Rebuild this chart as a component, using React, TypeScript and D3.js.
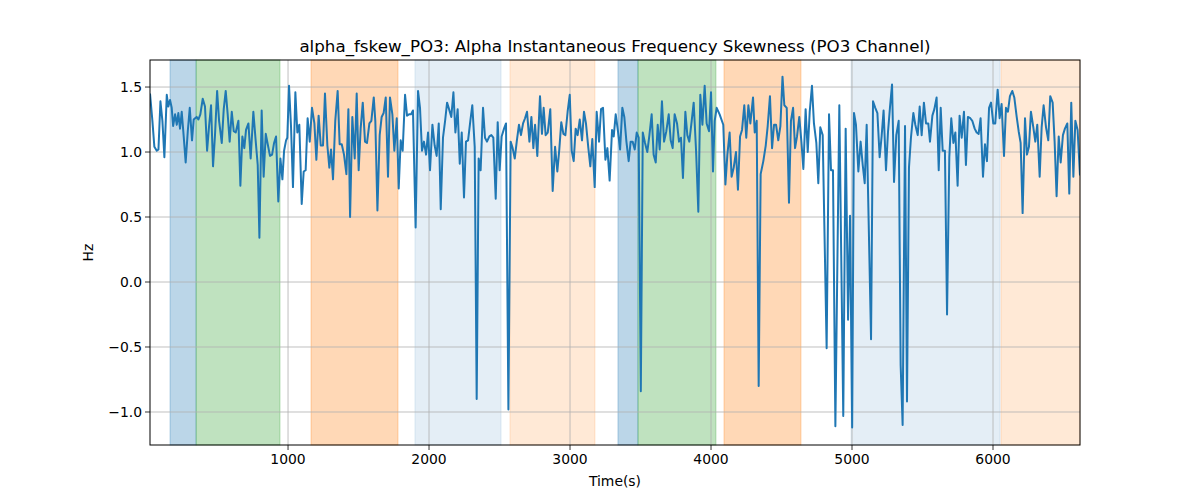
import * as d3 from "d3";

// time (s), value (Hz)
const samples: [number, number][] = [
  [21, 1.45], [38, 1.24], [52, 1.04], [69, 1.01], [81, 1.02], [95, 1.39], [109, 1.24], [123, 0.96],
  [140, 1.44], [151, 1.35], [163, 1.4], [175, 1.34], [185, 1.2], [199, 1.29], [211, 1.21], [222, 1.3],
  [234, 1.18], [246, 1.31], [260, 1.12], [274, 0.92], [289, 1.16], [303, 1.34], [319, 1.09], [331, 1.25],
  [341, 1.26], [352, 1.27], [364, 1.25], [378, 1.29], [395, 1.41], [411, 1.35], [426, 1.01], [440, 1.2],
  [454, 1.36], [468, 0.89], [482, 1.13], [497, 1.47], [511, 1.24], [530, 1.07], [544, 1.33], [558, 1.47],
  [572, 1.29], [586, 1.08], [601, 1.31], [615, 1.16], [629, 1.15], [648, 1.24], [662, 0.74], [676, 1.12],
  [690, 1.03], [702, 1.17], [719, 1.22], [735, 0.95], [754, 1.31], [771, 1.08], [785, 0.9], [797, 0.34],
  [813, 1.32], [827, 0.81], [842, 1.14], [856, 1.06], [872, 0.97], [887, 0.98], [901, 1.07], [915, 1.12],
  [931, 0.62], [946, 0.95], [960, 0.79], [972, 1.01], [986, 1.09], [995, 1.11], [1007, 1.51], [1021, 1.2],
  [1035, 0.73], [1052, 1.46], [1066, 1.15], [1080, 1.21], [1097, 0.6], [1111, 0.85], [1125, 0.86], [1139, 1.26],
  [1154, 1.08], [1170, 1.34], [1187, 1.22], [1201, 0.94], [1217, 1.28], [1232, 1.05], [1248, 1.05], [1262, 1.45],
  [1279, 1.05], [1293, 0.88], [1305, 1.02], [1319, 0.79], [1335, 1.24], [1352, 1.47], [1366, 1.06], [1381, 1.06],
  [1397, 0.98], [1414, 0.83], [1428, 1.33], [1440, 0.5], [1456, 1.27], [1473, 0.95], [1487, 1.45], [1501, 0.86],
  [1515, 1.18], [1530, 1.38], [1546, 1.08], [1560, 1.07], [1577, 1.22], [1591, 1.24], [1608, 1.42], [1619, 1.24],
  [1634, 0.55], [1650, 1.13], [1664, 1.27], [1678, 1.3], [1693, 1.42], [1709, 0.81], [1723, 1.42], [1740, 1.29],
  [1754, 1.01], [1771, 1.26], [1785, 0.72], [1799, 1.09], [1813, 1.01], [1830, 1.44], [1844, 1.28], [1858, 1.29],
  [1872, 1.29], [1886, 1.32], [1905, 0.42], [1922, 1.47], [1936, 1.34], [1950, 1.01], [1964, 1.08], [1979, 0.98],
  [1993, 1.15], [2007, 0.86], [2024, 1.21], [2040, 1.05], [2054, 0.97], [2069, 1.22], [2083, 0.56], [2099, 1.11],
  [2114, 1.24], [2128, 1.38], [2142, 1.33], [2158, 1.27], [2173, 1.46], [2187, 1.15], [2203, 1.33], [2218, 0.91],
  [2232, 1.15], [2248, 0.65], [2262, 1.08], [2277, 1.09], [2293, 1.24], [2307, 1.36], [2324, 1.04], [2338, -0.9],
  [2352, 0.95], [2366, 0.86], [2383, 1.34], [2397, 1.11], [2411, 1.08], [2428, 1.12], [2442, 1.13], [2456, 1.11],
  [2473, 0.64], [2487, 1.23], [2501, 0.86], [2515, 1.12], [2532, 1.18], [2546, 1.22], [2563, -0.98], [2579, 1.08],
  [2593, 1.03], [2608, 0.95], [2622, 1.08], [2638, 1.21], [2652, 1.13], [2667, 1.22], [2681, 1.26], [2695, 1.31],
  [2712, 1.08], [2726, 1.27], [2740, 1.03], [2752, 1.21], [2768, 0.97], [2787, 1.43], [2801, 1.14], [2813, 1.34],
  [2827, 1.13], [2842, 1.15], [2860, 1.33], [2877, 0.7], [2894, 1.04], [2910, 0.85], [2924, 1.02], [2938, 1.23],
  [2953, 1.14], [2967, 1.13], [2983, 1.31], [2998, 1.44], [3012, 1.01], [3026, 0.93], [3040, 1.18], [3054, 1.13],
  [3069, 1.25], [3085, 1.09], [3099, 1.31], [3113, 1.22], [3130, 1.03], [3144, 0.89], [3158, 1.1], [3175, 0.73],
  [3189, 1.31], [3206, 1.08], [3220, 1.33], [3234, 1.34], [3251, 0.94], [3265, 1.03], [3281, 0.78], [3298, 1.17],
  [3310, 1.12], [3324, 1.29], [3340, 1.16], [3355, 1.02], [3371, 1.34], [3385, 1.27], [3400, 1.08], [3416, 0.93],
  [3430, 1.08], [3444, 1.08], [3459, 1.02], [3473, 1.15], [3487, 1.11], [3502, -0.84], [3516, 1.15], [3532, 1.07],
  [3548, 1.0], [3563, 1.13], [3579, 1.29], [3593, 0.98], [3608, 0.92], [3622, 1.21], [3636, 1.02], [3652, 1.39],
  [3667, 1.08], [3683, 1.16], [3700, 1.29], [3714, 1.09], [3728, 1.03], [3742, 1.29], [3759, 1.22], [3773, 1.08],
  [3787, 1.11], [3801, 0.8], [3818, 1.31], [3832, 1.13], [3846, 1.08], [3863, 1.24], [3877, 1.38], [3894, 1.01],
  [3910, 0.54], [3924, 1.44], [3939, 1.21], [3955, 1.51], [3969, 1.22], [3986, 1.16], [4000, 1.46], [4014, 0.85],
  [4026, 1.24], [4040, 1.34], [4061, 1.29], [4087, 1.21], [4102, 0.75], [4116, 0.98], [4132, 1.15], [4146, 0.81],
  [4161, 0.88], [4177, 1.0], [4191, 0.71], [4206, 1.12], [4220, 1.17], [4236, 1.36], [4250, 1.11], [4265, 1.36],
  [4279, 1.22], [4298, 1.42], [4310, 1.15], [4324, 1.24], [4338, -0.8], [4352, 0.83], [4371, 0.93], [4388, 1.05],
  [4402, 1.2], [4418, 1.43], [4433, 1.03], [4447, 1.21], [4461, 1.21], [4477, 1.09], [4492, 1.2], [4507, 1.58],
  [4520, 1.36], [4537, 1.34], [4553, 0.61], [4567, 1.24], [4582, 1.34], [4596, 1.03], [4610, 1.12], [4626, 1.27],
  [4641, 1.08], [4655, 0.87], [4671, 1.33], [4686, 1.0], [4700, 1.31], [4716, 1.51], [4730, 1.22], [4747, 1.07],
  [4761, 0.76], [4775, 1.19], [4792, 1.13], [4820, -0.51], [4837, 1.29], [4851, 0.86], [4865, 0.86], [4882, -1.11],
  [4910, 1.36], [4938, -1.03], [4955, 1.18], [4972, -0.29], [4986, 0.51], [5001, -1.12], [5014, 1.3], [5028, 1.21],
  [5045, 0.85], [5061, 1.08], [5076, 0.9], [5090, 0.76], [5104, 1.21], [5118, 0.47], [5135, -0.44], [5149, 1.39],
  [5165, 1.34], [5180, 1.3], [5196, 0.96], [5210, 1.12], [5224, 1.32], [5241, 0.86], [5255, 1.15], [5269, 1.34],
  [5284, 1.52], [5298, 0.77], [5314, 1.13], [5331, 1.24], [5345, -0.64], [5359, -1.1], [5376, 1.2], [5390, -0.92],
  [5404, 0.88], [5418, 1.11], [5435, 1.3], [5449, 1.21], [5466, 1.13], [5480, 1.35], [5494, 1.13], [5510, 1.38],
  [5525, 1.22], [5541, 1.22], [5553, 1.08], [5570, 1.28], [5584, 1.33], [5600, 1.42], [5615, 0.86], [5629, 1.34],
  [5643, 1.01], [5659, 1.01], [5674, -0.25], [5690, 0.96], [5704, 1.26], [5719, 1.07], [5733, 1.15], [5749, 0.74],
  [5763, 1.28], [5778, 1.11], [5794, 1.31], [5808, 0.9], [5822, 1.27], [5839, 1.26], [5853, 1.24], [5870, 1.18],
  [5884, 1.15], [5898, 1.14], [5912, 1.26], [5929, 0.81], [5943, 1.06], [5957, 0.93], [5972, 1.34], [5986, 1.38],
  [6002, 1.22], [6016, 1.22], [6033, 1.48], [6047, 1.26], [6061, 1.37], [6078, 0.97], [6092, 1.34], [6106, 1.31],
  [6120, 1.43], [6137, 1.47], [6151, 1.42], [6168, 1.27], [6182, 1.16], [6196, 1.07], [6210, 0.53], [6227, 1.26],
  [6241, 0.98], [6255, 1.04], [6269, 1.31], [6286, 1.19], [6300, 1.08], [6314, 1.21], [6331, 0.81], [6345, 1.19],
  [6359, 1.36], [6376, 1.19], [6392, 1.09], [6406, 1.43], [6423, 1.38], [6437, 1.08], [6451, 0.66], [6466, 1.12],
  [6480, 0.92], [6496, 1.13], [6510, 1.18], [6527, 1.22], [6541, 0.68], [6555, 1.38], [6570, 0.81], [6584, 1.24],
  [6600, 1.17], [6617, 0.82],
];

// shaded intervals: [start, end] and their kind
const spanRanges: [number, number][] = [
  [163, 348], [348, 943], [1163, 1780], [1900, 2511], [2574, 3177],
  [3340, 3482], [3482, 4035], [4092, 4638], [4993, 6050], [6057, 6617],
];
const spanKinds = [
  "blue", "green", "orange", "paleBlue", "paleOrange",
  "blue", "green", "orange", "paleBlue", "paleOrange",
];

const xTicks = [1000, 2000, 3000, 4000, 5000, 6000];
const yTicks = [-1.0, -0.5, 0.0, 0.5, 1.0, 1.5];

const spanStyle: Record<string, { color: string; opacity: number }> = {
  blue: { color: "#1f77b4", opacity: 0.3 },
  green: { color: "#2ca02c", opacity: 0.3 },
  orange: { color: "#ff7f0e", opacity: 0.3 },
  paleBlue: { color: "#1f77b4", opacity: 0.12 },
  paleOrange: { color: "#ff7f0e", opacity: 0.17 },
};

const W = 1200;
const H = 500;
const margin = { top: 60, right: 120, bottom: 55, left: 150 };
const font = "DejaVu Sans, sans-serif";

export default function App() {
  const iw = W - margin.left - margin.right;
  const ih = H - margin.top - margin.bottom;

  const x = d3.scaleLinear().domain([21, 6617]).range([0, iw]);
  const y = d3.scaleLinear().domain([-1.254, 1.708]).range([ih, 0]);

  const line = d3
    .line<[number, number]>()
    .x((d) => x(d[0]))
    .y((d) => y(d[1]));

  const fmtY = (v: number) => v.toFixed(1).replace("-", "\u2212");

  return (
    <svg
      width={W}
      height={H}
      style={{ position: "absolute", left: 0, top: 0, background: "#fff" }}
      fontFamily={font}
    >
      <g transform={`translate(${margin.left},${margin.top})`}>
        {/* spans */}
        {spanRanges.map(([a, b], i) => {
          const s = spanStyle[spanKinds[i]];
          return (
            <rect
              key={i}
              x={x(a)}
              y={0}
              width={x(b) - x(a)}
              height={ih}
              fill={s.color}
              fillOpacity={s.opacity}
              stroke={s.color}
              strokeOpacity={s.opacity}
              strokeWidth={1}
            />
          );
        })}

        {/* grid */}
        {xTicks.map((t) => (
          <line key={`gx${t}`} x1={x(t)} x2={x(t)} y1={0} y2={ih} stroke="#b0b0b0" strokeWidth={0.8} />
        ))}
        {yTicks.map((t) => (
          <line key={`gy${t}`} x1={0} x2={iw} y1={y(t)} y2={y(t)} stroke="#b0b0b0" strokeWidth={0.8} />
        ))}

        {/* series */}
        <clipPath id="plot-clip">
          <rect x={0} y={0} width={iw} height={ih} />
        </clipPath>
        <path
          d={line(samples) ?? ""}
          fill="none"
          stroke="#1f77b4"
          strokeWidth={2}
          strokeLinejoin="round"
          clipPath="url(#plot-clip)"
        />

        {/* frame */}
        <rect x={0} y={0} width={iw} height={ih} fill="none" stroke="#000" strokeWidth={1} />

        {/* x axis */}
        {xTicks.map((t) => (
          <g key={`tx${t}`} transform={`translate(${x(t)},${ih})`}>
            <line y1={0} y2={5} stroke="#000" strokeWidth={0.8} />
            <text y={19} textAnchor="middle" fontSize={13.9} fill="#000">
              {t}
            </text>
          </g>
        ))}
        {/* y axis */}
        {yTicks.map((t) => (
          <g key={`ty${t}`} transform={`translate(0,${y(t)})`}>
            <line x1={0} x2={-5} stroke="#000" strokeWidth={0.8} />
            <text x={-8} dy="0.35em" textAnchor="end" fontSize={13.9} fill="#000">
              {fmtY(t)}
            </text>
          </g>
        ))}

        <text x={iw / 2} y={ih + 41} textAnchor="middle" fontSize={13.9} fill="#000">
          Time(s)
        </text>
        <text
          transform={`translate(${-57},${ih / 2}) rotate(-90)`}
          textAnchor="middle"
          fontSize={13.9}
          fill="#000"
        >
          Hz
        </text>
        <text x={iw / 2} y={-8} textAnchor="middle" fontSize={16.7} fill="#000">
          alpha_fskew_PO3: Alpha Instantaneous Frequency Skewness (PO3 Channel)
        </text>
      </g>
    </svg>
  );
}
